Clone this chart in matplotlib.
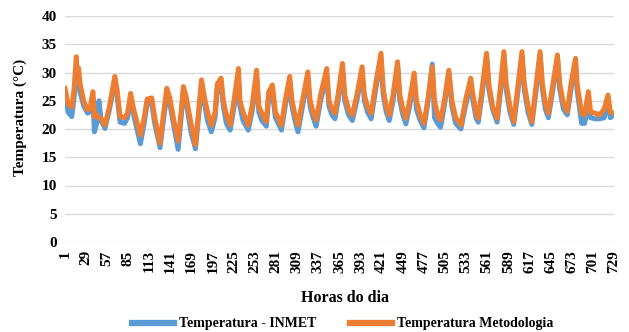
import matplotlib
matplotlib.use("Agg")
import matplotlib.pyplot as plt

# Hours (key points)
hours = [1, 5, 10, 13, 16, 17, 19, 21, 26, 31,
         34, 38, 40, 43, 46, 49, 54, 60, 67, 70,
         74, 80, 84, 88, 92, 101, 106, 110, 116, 120,
         127, 131, 136, 140, 146, 151, 155, 158, 162, 168,
         174, 178, 182, 186, 190, 195, 200, 203, 208, 211,
         215, 220, 224, 231, 233, 237, 244, 249, 255, 258,
         262, 268, 271, 273, 276, 280, 288, 293, 299, 302,
         306, 310, 316, 323, 326, 330, 334, 340, 348, 351,
         355, 359, 363, 369, 372, 377, 382, 388, 395, 398,
         402, 407, 413, 420, 423, 427, 431, 436, 442, 445,
         449, 453, 458, 464, 467, 472, 477, 482, 488, 491,
         495, 499, 504, 510, 514, 519, 526, 532, 539, 542,
         546, 549, 554, 560, 563, 568, 574, 578, 583, 586,
         591, 596, 601, 607, 610, 615, 620, 625, 631, 634,
         638, 642, 648, 654, 657, 662, 667, 672, 678, 680,
         686, 690, 695, 698, 704, 710, 716, 721, 724, 729]

temp_metodologia = [27.2, 24.5, 23.9, 27.0, 32.8, 29.5, 30.8, 28.0, 24.8, 23.4,
                    23.5, 26.6, 22.2, 22.5, 22.0, 21.8, 20.7, 24.0, 29.3, 27.0,
                    22.2, 22.0, 22.8, 26.3, 23.5, 18.9, 22.0, 25.3, 25.5, 22.0,
                    17.5, 22.0, 27.2, 25.5, 21.0, 17.9, 23.0, 27.5, 25.5, 21.0,
                    17.2, 23.0, 28.7, 25.5, 23.0, 20.7, 23.0, 28.0, 29.0, 25.0,
                    22.5, 20.7, 24.0, 30.7, 25.0, 23.0, 20.7, 24.0, 30.4, 24.0,
                    22.8, 21.3, 26.5, 27.0, 27.8, 23.0, 20.7, 25.0, 29.3, 25.0,
                    22.5, 20.7, 25.0, 30.1, 25.0, 23.0, 21.6, 26.0, 30.7, 25.0,
                    23.5, 22.8, 26.0, 31.6, 26.0, 23.5, 22.5, 26.0, 31.0, 26.0,
                    24.0, 22.8, 28.0, 33.4, 27.0, 24.0, 22.5, 26.0, 31.9, 26.0,
                    23.5, 21.9, 25.0, 29.9, 25.0, 22.5, 21.0, 25.0, 31.0, 25.0,
                    22.5, 21.6, 25.0, 30.4, 25.0, 22.0, 20.7, 25.0, 29.0, 26.0,
                    23.0, 21.9, 27.0, 33.4, 28.0, 24.0, 21.9, 27.0, 33.7, 28.0,
                    24.0, 21.3, 27.0, 33.7, 28.0, 24.0, 21.3, 27.0, 33.7, 28.0,
                    24.5, 22.8, 28.0, 33.1, 28.0, 24.5, 23.1, 28.0, 32.5, 28.0,
                    22.8, 22.5, 26.6, 23.0, 22.8, 22.5, 23.5, 26.0, 23.0, 22.8]

temp_inmet = [26.5, 23.0, 22.2, 25.5, 30.0, 28.0, 29.0, 26.5, 24.0, 22.8,
              23.0, 25.5, 19.5, 21.0, 25.0, 21.5, 20.1, 23.5, 28.5, 26.0,
              21.2, 21.0, 22.0, 25.5, 22.5, 17.4, 21.0, 24.5, 24.5, 21.0,
              16.7, 21.0, 26.0, 24.5, 20.0, 16.4, 22.0, 26.8, 24.5, 19.5,
              16.5, 22.0, 27.5, 24.5, 21.5, 19.5, 22.0, 27.0, 28.0, 24.0,
              21.0, 19.8, 23.0, 28.5, 24.0, 21.5, 19.8, 23.0, 29.0, 23.0,
              21.5, 20.5, 25.5, 25.0, 26.5, 22.0, 19.8, 24.0, 28.0, 24.0,
              21.5, 19.5, 24.0, 29.0, 24.0, 22.0, 20.5, 25.0, 29.5, 24.0,
              22.5, 21.8, 25.0, 30.0, 25.0, 22.5, 21.5, 25.0, 30.0, 25.0,
              23.0, 21.8, 27.0, 32.5, 26.0, 23.0, 21.5, 25.0, 31.0, 25.0,
              22.5, 20.9, 24.0, 29.0, 23.5, 21.5, 20.2, 24.5, 31.5, 22.0,
              21.0, 20.3, 24.0, 30.0, 24.0, 21.0, 20.0, 24.0, 28.0, 25.0,
              22.0, 21.2, 26.0, 33.0, 27.0, 23.5, 21.2, 26.0, 33.0, 27.0,
              23.0, 20.8, 26.0, 33.0, 27.0, 23.0, 20.8, 26.0, 33.2, 27.0,
              23.5, 22.0, 27.0, 32.5, 27.0, 23.5, 22.5, 27.0, 32.0, 27.0,
              21.0, 21.0, 24.5, 22.0, 21.8, 21.8, 22.0, 25.5, 22.0, 22.5]

x_ticks = list(range(1, 730, 28))
y_ticks = list(range(0, 41, 5))

plt.rcParams['font.family'] = ['Liberation Serif', 'DejaVu Serif']
plt.rcParams['font.weight'] = 'bold'

fig = plt.figure(figsize=(6.29, 3.32), dpi=100)
ax = fig.add_axes([65/629, 1-242/332, (614-65)/629, (242-16)/332])

blue = '#5B9BD5'
orange = '#ED7D31'
ax.plot(hours, temp_inmet, color=blue, lw=3.6, solid_joinstyle='round', label='Temperatura - INMET')
ax.plot(hours, temp_metodologia, color=orange, lw=3.6, solid_joinstyle='round', label='Temperatura Metodologia')

ax.set_xlim(1, 729)
ax.set_ylim(0, 40)
ax.set_yticks(y_ticks)
ax.set_xticks(x_ticks)
ax.set_xticklabels([str(t) for t in x_ticks], rotation=90, fontsize=11, fontweight='bold')
ax.set_yticklabels([str(t) for t in y_ticks], fontsize=11, fontweight='bold')
ax.tick_params(length=0, pad=6)
ax.grid(axis='y', color='#D9D9D9', lw=1)
ax.set_axisbelow(True)
for s in ax.spines.values():
    s.set_visible(False)

fig.text(20/629, 1-117/332, 'Temperatura (°C)', rotation=90, ha='center', va='center',
         fontsize=11, fontweight='bold')
fig.text(345/629, 1-298/332, 'Horas do dia', ha='center', va='center',
         fontsize=11.5, fontweight='bold')

leg = fig.legend(loc='center', bbox_to_anchor=(343/629, 1-324/332), ncol=2, frameon=False,
                 prop={'weight': 'bold', 'size': 10}, handlelength=3.0, columnspacing=2.4,
                 handletextpad=0.4)
for h in leg.legend_handles:
    h.set_linewidth(4.5)

fig.savefig('out.png', dpi=100)
